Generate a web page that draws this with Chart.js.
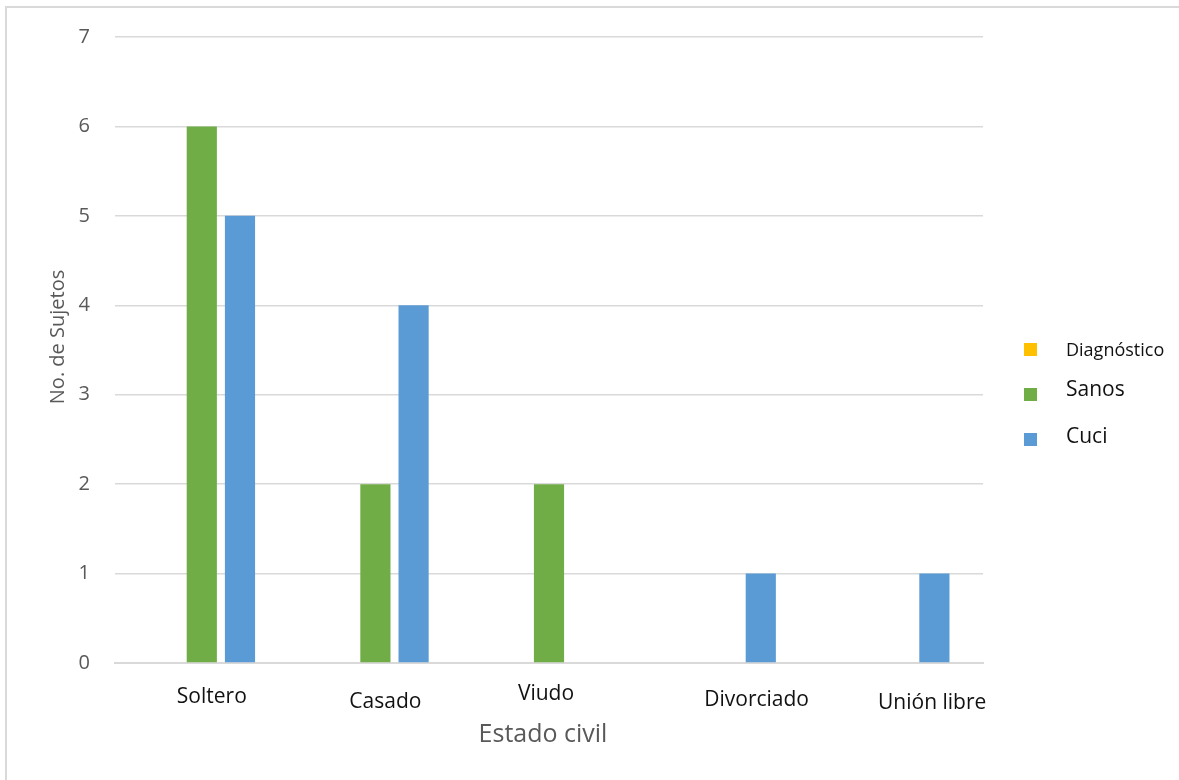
<!DOCTYPE html>
<html>
<head>
<meta charset="utf-8">
<script src="https://cdn.jsdelivr.net/npm/chart.js@4.4.1/dist/chart.umd.min.js"></script>
<style>
  html, body { margin: 0; padding: 0; background: #fff; overflow: hidden; }
  #wrap { position: relative; width: 1179px; height: 780px; }
  #frame { position: absolute; left: 5px; top: 6px; width: 1300px; height: 900px;
           border-left: 2px solid #d9d9d9; border-top: 2px solid #d9d9d9; }
  #legend { position: absolute; left: 1024px; top: 0; font-family: "Open Sans", sans-serif; color: #111; }
  .item { position: absolute; white-space: nowrap; }
  .item span.box { position: absolute; left: 0; width: 13px; height: 13px; }
  .item span.txt { position: absolute; left: 42px; line-height: 1; }
</style>
</head>
<body>
<div id="wrap">
  <div id="frame"></div>
  <canvas id="civilChart" width="1179" height="780"></canvas>
  <div id="legend"></div>
</div>
<script>
// Subjects by marital status
const categories = ['Soltero', 'Casado', 'Viudo', 'Divorciado', 'Unión libre'];
const diagnostico = [0, 0, 0, 0, 0];
const sanos = [6, 2, 2, 0, 0];
const cuci = [5, 4, 0, 1, 1];
const yTicks = [0, 1, 2, 3, 4, 5, 6, 7];

const seriesNames = ['Diagnóstico', 'Sanos', 'Cuci'];
const seriesColors = ['#FFC000', '#70AD47', '#5B9BD5'];
const xTitle = 'Estado civil';
const yTitle = 'No. de Sujetos';

// category labels were placed by hand, so each one is nudged from its tick
const labelShift = [
    { dx: 10, y: 697 },
    { dx: 10, y: 702 },
    { dx: -3, y: 694 },
    { dx: 34, y: 700 },
    { dx: 36, y: 703 },
];

// draws category labels and both axis titles
const axisText = {
    id: 'axisText',
    afterDraw(chart) {
        const x = chart.scales.x;
        const area = chart.chartArea;
        const c = chart.ctx;
        c.save();
        c.textAlign = 'center';
        c.textBaseline = 'middle';

        c.fillStyle = '#111';
        c.font = '21px "Open Sans"';
        categories.forEach((name, i) => {
            c.fillText(name, x.getPixelForTick(i) + labelShift[i].dx, labelShift[i].y);
        });

        c.fillStyle = '#595959';
        c.font = '25px "Open Sans"';
        c.fillText(xTitle, (area.left + area.right) / 2 - 6, 735);

        c.font = '20px "Open Sans"';
        c.translate(58, (area.top + area.bottom) / 2 - 13);
        c.rotate(-Math.PI / 2);
        c.fillText(yTitle, 0, 0);
        c.restore();
    }
};

const ctx = document.getElementById('civilChart').getContext('2d');
const chart = new Chart(ctx, {
    type: 'bar',
    data: {
        labels: categories,
        datasets: [diagnostico, sanos, cuci].map((vals, i) => ({
            label: seriesNames[i],
            data: vals,
            backgroundColor: seriesColors[i],
            borderWidth: 0,
            categoryPercentage: 0.66,
            barPercentage: 0.79,
        }))
    },
    options: {
        responsive: false,
        animation: false,
        layout: { padding: { top: 36, right: 196, bottom: 0, left: 0 } },
        scales: {
            x: {
                afterFit: (s) => { s.height = 117; },
                grid: { display: false, drawTicks: false },
                border: { color: '#d9d9d9', width: 2 },
                ticks: { display: false },
            },
            y: {
                min: 0,
                max: 7,
                afterFit: (s) => { s.width = 115; },
                afterBuildTicks: (s) => { s.ticks = yTicks.map((v) => ({ value: v })); },
                grid: { color: '#d9d9d9', lineWidth: 1.5, drawTicks: false },
                border: { display: false },
                ticks: {
                    color: '#595959',
                    padding: 25,
                    font: { family: 'Open Sans', size: 20 },
                },
            },
        },
        plugins: {
            legend: { display: false },
            tooltip: { enabled: false },
        },
    },
    plugins: [axisText],
});

// Legend on the right, built from the series
const legendEl = document.getElementById('legend');
const legendRows = [
    { box: 343, text: 351, size: 18 },
    { box: 388, text: 391, size: 21 },
    { box: 433, text: 438, size: 21 },
];
seriesNames.forEach((name, i) => {
    const row = legendRows[i];
    const item = document.createElement('div');
    item.className = 'item';
    const box = document.createElement('span');
    box.className = 'box';
    box.style.background = seriesColors[i];
    box.style.top = row.box + 'px';
    const txt = document.createElement('span');
    txt.className = 'txt';
    txt.style.fontSize = row.size + 'px';
    txt.style.top = (row.text - row.size * 0.6) + 'px';
    txt.textContent = name;
    item.appendChild(box);
    item.appendChild(txt);
    legendEl.appendChild(item);
});
</script>
</body>
</html>
